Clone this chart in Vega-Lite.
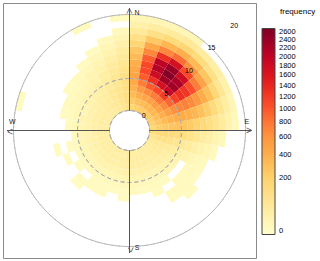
{
 "$schema": "https://vega.github.io/schema/vega-lite/v6.json",
 "width": 253, "height": 255,
 "autosize": {"type": "none"},
 "padding": {"left": 3, "top": 3, "right": 64, "bottom": 3},
 "background": "white",
 "view": {"stroke": "#8a8a8a", "strokeWidth": 1, "fill": "white"},
 "config": {"view": {"stroke": "#8a8a8a", "strokeWidth": 1}, "font": "Liberation Sans"},
 "datasets": {
  "rings": [{"ws":0,"lab":"0"},{"ws":5,"lab":"5"},{"ws":10,"lab":"10"},{"ws":15,"lab":"15"},{"ws":20,"lab":"20"}],
  "axes": [{"dir":0},{"dir":90},{"dir":180},{"dir":270}]
 },
 "layer": [
  {
   "data": {"values": [
{"wd":0,"ws":0,"n":180},{"wd":0,"ws":1,"n":240},{"wd":0,"ws":2,"n":310},{"wd":0,"ws":3,"n":380},{"wd":0,"ws":4,"n":430},{"wd":0,"ws":5,"n":460},{"wd":0,"ws":6,"n":450},{"wd":0,"ws":7,"n":400},{"wd":0,"ws":8,"n":330},{"wd":0,"ws":9,"n":260},{"wd":0,"ws":10,"n":180},{"wd":0,"ws":11,"n":110},{"wd":0,"ws":12,"n":55},{"wd":0,"ws":13,"n":25},{"wd":0,"ws":14,"n":10},
{"wd":10,"ws":0,"n":210},{"wd":10,"ws":1,"n":290},{"wd":10,"ws":2,"n":400},{"wd":10,"ws":3,"n":550},{"wd":10,"ws":4,"n":750},{"wd":10,"ws":5,"n":950},{"wd":10,"ws":6,"n":1100},{"wd":10,"ws":7,"n":1100},{"wd":10,"ws":8,"n":950},{"wd":10,"ws":9,"n":700},{"wd":10,"ws":10,"n":450},{"wd":10,"ws":11,"n":250},{"wd":10,"ws":12,"n":110},{"wd":10,"ws":13,"n":40},{"wd":10,"ws":14,"n":12},
{"wd":20,"ws":0,"n":230},{"wd":20,"ws":1,"n":320},{"wd":20,"ws":2,"n":460},{"wd":20,"ws":3,"n":680},{"wd":20,"ws":4,"n":950},{"wd":20,"ws":5,"n":1300},{"wd":20,"ws":6,"n":1800},{"wd":20,"ws":7,"n":2100},{"wd":20,"ws":8,"n":2000},{"wd":20,"ws":9,"n":1300},{"wd":20,"ws":10,"n":700},{"wd":20,"ws":11,"n":350},{"wd":20,"ws":12,"n":150},{"wd":20,"ws":13,"n":50},{"wd":20,"ws":14,"n":12},
{"wd":30,"ws":0,"n":240},{"wd":30,"ws":1,"n":340},{"wd":30,"ws":2,"n":500},{"wd":30,"ws":3,"n":750},{"wd":30,"ws":4,"n":1100},{"wd":30,"ws":5,"n":1700},{"wd":30,"ws":6,"n":2300},{"wd":30,"ws":7,"n":2600},{"wd":30,"ws":8,"n":2400},{"wd":30,"ws":9,"n":1700},{"wd":30,"ws":10,"n":850},{"wd":30,"ws":11,"n":400},{"wd":30,"ws":12,"n":180},{"wd":30,"ws":13,"n":60},{"wd":30,"ws":14,"n":10},
{"wd":40,"ws":0,"n":250},{"wd":40,"ws":1,"n":360},{"wd":40,"ws":2,"n":530},{"wd":40,"ws":3,"n":800},{"wd":40,"ws":4,"n":1200},{"wd":40,"ws":5,"n":1900},{"wd":40,"ws":6,"n":2300},{"wd":40,"ws":7,"n":2200},{"wd":40,"ws":8,"n":1800},{"wd":40,"ws":9,"n":1100},{"wd":40,"ws":10,"n":650},{"wd":40,"ws":11,"n":330},{"wd":40,"ws":12,"n":150},{"wd":40,"ws":13,"n":45},
{"wd":50,"ws":0,"n":240},{"wd":50,"ws":1,"n":340},{"wd":50,"ws":2,"n":480},{"wd":50,"ws":3,"n":680},{"wd":50,"ws":4,"n":900},{"wd":50,"ws":5,"n":1150},{"wd":50,"ws":6,"n":1300},{"wd":50,"ws":7,"n":1250},{"wd":50,"ws":8,"n":1050},{"wd":50,"ws":9,"n":750},{"wd":50,"ws":10,"n":480},{"wd":50,"ws":11,"n":260},{"wd":50,"ws":12,"n":110},{"wd":50,"ws":13,"n":35},
{"wd":60,"ws":0,"n":220},{"wd":60,"ws":1,"n":300},{"wd":60,"ws":2,"n":400},{"wd":60,"ws":3,"n":520},{"wd":60,"ws":4,"n":630},{"wd":60,"ws":5,"n":700},{"wd":60,"ws":6,"n":730},{"wd":60,"ws":7,"n":680},{"wd":60,"ws":8,"n":560},{"wd":60,"ws":9,"n":420},{"wd":60,"ws":10,"n":290},{"wd":60,"ws":11,"n":170},{"wd":60,"ws":12,"n":75},{"wd":60,"ws":13,"n":22},
{"wd":70,"ws":0,"n":200},{"wd":70,"ws":1,"n":260},{"wd":70,"ws":2,"n":320},{"wd":70,"ws":3,"n":370},{"wd":70,"ws":4,"n":400},{"wd":70,"ws":5,"n":410},{"wd":70,"ws":6,"n":390},{"wd":70,"ws":7,"n":350},{"wd":70,"ws":8,"n":290},{"wd":70,"ws":9,"n":220},{"wd":70,"ws":10,"n":150},{"wd":70,"ws":11,"n":85},{"wd":70,"ws":12,"n":38},{"wd":70,"ws":13,"n":12},
{"wd":80,"ws":0,"n":180},{"wd":80,"ws":1,"n":220},{"wd":80,"ws":2,"n":250},{"wd":80,"ws":3,"n":270},{"wd":80,"ws":4,"n":275},{"wd":80,"ws":5,"n":260},{"wd":80,"ws":6,"n":235},{"wd":80,"ws":7,"n":200},{"wd":80,"ws":8,"n":160},{"wd":80,"ws":9,"n":120},{"wd":80,"ws":10,"n":80},{"wd":80,"ws":11,"n":45},{"wd":80,"ws":12,"n":20},{"wd":80,"ws":13,"n":6},
{"wd":90,"ws":0,"n":130},{"wd":90,"ws":1,"n":150},{"wd":90,"ws":2,"n":155},{"wd":90,"ws":3,"n":150},{"wd":90,"ws":4,"n":135},{"wd":90,"ws":5,"n":115},{"wd":90,"ws":6,"n":90},{"wd":90,"ws":7,"n":68},{"wd":90,"ws":8,"n":46},{"wd":90,"ws":9,"n":28},{"wd":90,"ws":10,"n":15},{"wd":90,"ws":11,"n":6},
{"wd":100,"ws":0,"n":90},{"wd":100,"ws":1,"n":100},{"wd":100,"ws":2,"n":100},{"wd":100,"ws":3,"n":90},{"wd":100,"ws":4,"n":75},{"wd":100,"ws":5,"n":60},{"wd":100,"ws":6,"n":45},{"wd":100,"ws":7,"n":30},{"wd":100,"ws":8,"n":20},{"wd":100,"ws":9,"n":11},{"wd":100,"ws":10,"n":5},
{"wd":110,"ws":0,"n":60},{"wd":110,"ws":1,"n":62},{"wd":110,"ws":2,"n":58},{"wd":110,"ws":3,"n":50},{"wd":110,"ws":4,"n":40},{"wd":110,"ws":5,"n":28},{"wd":110,"ws":6,"n":18},{"wd":110,"ws":7,"n":11},{"wd":110,"ws":8,"n":6},{"wd":110,"ws":9,"n":4},
{"wd":120,"ws":0,"n":48},{"wd":120,"ws":1,"n":50},{"wd":120,"ws":2,"n":45},{"wd":120,"ws":3,"n":37},{"wd":120,"ws":4,"n":27},{"wd":120,"ws":5,"n":16},{"wd":120,"ws":7,"n":5},{"wd":120,"ws":8,"n":6},{"wd":120,"ws":9,"n":3},
{"wd":130,"ws":0,"n":43},{"wd":130,"ws":1,"n":43},{"wd":130,"ws":2,"n":37},{"wd":130,"ws":3,"n":30},{"wd":130,"ws":4,"n":19},{"wd":130,"ws":5,"n":10},{"wd":130,"ws":7,"n":4},{"wd":130,"ws":8,"n":5},{"wd":130,"ws":9,"n":4},{"wd":130,"ws":10,"n":3},
{"wd":140,"ws":0,"n":40},{"wd":140,"ws":1,"n":40},{"wd":140,"ws":2,"n":33},{"wd":140,"ws":3,"n":25},{"wd":140,"ws":4,"n":15},{"wd":140,"ws":5,"n":6},{"wd":140,"ws":6,"n":3},{"wd":140,"ws":8,"n":4},{"wd":140,"ws":9,"n":3},
{"wd":150,"ws":0,"n":38},{"wd":150,"ws":1,"n":38},{"wd":150,"ws":2,"n":32},{"wd":150,"ws":3,"n":24},{"wd":150,"ws":4,"n":14},{"wd":150,"ws":5,"n":7},{"wd":150,"ws":6,"n":4},{"wd":150,"ws":7,"n":3},
{"wd":160,"ws":0,"n":38},{"wd":160,"ws":1,"n":38},{"wd":160,"ws":2,"n":32},{"wd":160,"ws":3,"n":24},{"wd":160,"ws":4,"n":14},{"wd":160,"ws":5,"n":7},{"wd":160,"ws":6,"n":3},
{"wd":170,"ws":0,"n":38},{"wd":170,"ws":1,"n":38},{"wd":170,"ws":2,"n":32},{"wd":170,"ws":3,"n":24},{"wd":170,"ws":4,"n":14},{"wd":170,"ws":5,"n":7},{"wd":170,"ws":6,"n":4},
{"wd":180,"ws":0,"n":38},{"wd":180,"ws":1,"n":38},{"wd":180,"ws":2,"n":32},{"wd":180,"ws":3,"n":24},{"wd":180,"ws":4,"n":14},{"wd":180,"ws":5,"n":7},{"wd":180,"ws":6,"n":3},{"wd":180,"ws":7,"n":3},
{"wd":190,"ws":0,"n":36},{"wd":190,"ws":1,"n":35},{"wd":190,"ws":2,"n":28},{"wd":190,"ws":3,"n":20},{"wd":190,"ws":4,"n":11},{"wd":190,"ws":5,"n":5},{"wd":190,"ws":6,"n":3},
{"wd":200,"ws":0,"n":36},{"wd":200,"ws":1,"n":35},{"wd":200,"ws":2,"n":28},{"wd":200,"ws":3,"n":20},{"wd":200,"ws":4,"n":11},{"wd":200,"ws":5,"n":5},{"wd":200,"ws":6,"n":3},{"wd":200,"ws":7,"n":3},
{"wd":210,"ws":0,"n":36},{"wd":210,"ws":1,"n":35},{"wd":210,"ws":2,"n":28},{"wd":210,"ws":3,"n":20},{"wd":210,"ws":4,"n":11},{"wd":210,"ws":5,"n":5},{"wd":210,"ws":6,"n":3},{"wd":210,"ws":7,"n":3},
{"wd":220,"ws":0,"n":36},{"wd":220,"ws":1,"n":35},{"wd":220,"ws":2,"n":28},{"wd":220,"ws":3,"n":20},{"wd":220,"ws":4,"n":10},{"wd":220,"ws":5,"n":4},{"wd":220,"ws":7,"n":3},{"wd":220,"ws":8,"n":2},
{"wd":230,"ws":0,"n":36},{"wd":230,"ws":1,"n":35},{"wd":230,"ws":2,"n":27},{"wd":230,"ws":3,"n":18},{"wd":230,"ws":4,"n":10},{"wd":230,"ws":5,"n":4},{"wd":230,"ws":6,"n":3},
{"wd":240,"ws":0,"n":36},{"wd":240,"ws":1,"n":35},{"wd":240,"ws":2,"n":27},{"wd":240,"ws":3,"n":18},{"wd":240,"ws":4,"n":10},{"wd":240,"ws":5,"n":4},{"wd":240,"ws":7,"n":3},
{"wd":250,"ws":0,"n":36},{"wd":250,"ws":1,"n":35},{"wd":250,"ws":2,"n":27},{"wd":250,"ws":3,"n":18},{"wd":250,"ws":4,"n":10},{"wd":250,"ws":5,"n":4},{"wd":250,"ws":6,"n":3},{"wd":250,"ws":8,"n":3},
{"wd":260,"ws":0,"n":36},{"wd":260,"ws":1,"n":35},{"wd":260,"ws":2,"n":27},{"wd":260,"ws":3,"n":18},{"wd":260,"ws":4,"n":10},{"wd":260,"ws":5,"n":4},
{"wd":270,"ws":0,"n":36},{"wd":270,"ws":1,"n":35},{"wd":270,"ws":2,"n":28},{"wd":270,"ws":3,"n":20},{"wd":270,"ws":4,"n":12},{"wd":270,"ws":5,"n":6},{"wd":270,"ws":6,"n":3},
{"wd":280,"ws":0,"n":38},{"wd":280,"ws":1,"n":38},{"wd":280,"ws":2,"n":30},{"wd":280,"ws":3,"n":22},{"wd":280,"ws":4,"n":15},{"wd":280,"ws":5,"n":9},{"wd":280,"ws":6,"n":5},{"wd":280,"ws":7,"n":3},{"wd":280,"ws":14,"n":3},
{"wd":290,"ws":0,"n":38},{"wd":290,"ws":1,"n":38},{"wd":290,"ws":2,"n":31},{"wd":290,"ws":3,"n":24},{"wd":290,"ws":4,"n":16},{"wd":290,"ws":5,"n":11},{"wd":290,"ws":6,"n":7},{"wd":290,"ws":7,"n":4},
{"wd":300,"ws":0,"n":40},{"wd":300,"ws":1,"n":40},{"wd":300,"ws":2,"n":34},{"wd":300,"ws":3,"n":27},{"wd":300,"ws":4,"n":20},{"wd":300,"ws":5,"n":14},{"wd":300,"ws":6,"n":9},{"wd":300,"ws":7,"n":5},{"wd":300,"ws":8,"n":3},
{"wd":310,"ws":0,"n":43},{"wd":310,"ws":1,"n":43},{"wd":310,"ws":2,"n":38},{"wd":310,"ws":3,"n":32},{"wd":310,"ws":4,"n":25},{"wd":310,"ws":5,"n":18},{"wd":310,"ws":6,"n":12},{"wd":310,"ws":7,"n":7},{"wd":310,"ws":8,"n":4},
{"wd":320,"ws":0,"n":50},{"wd":320,"ws":1,"n":52},{"wd":320,"ws":2,"n":48},{"wd":320,"ws":3,"n":42},{"wd":320,"ws":4,"n":35},{"wd":320,"ws":5,"n":28},{"wd":320,"ws":6,"n":20},{"wd":320,"ws":7,"n":13},{"wd":320,"ws":8,"n":7},{"wd":320,"ws":9,"n":3},
{"wd":330,"ws":0,"n":60},{"wd":330,"ws":1,"n":62},{"wd":330,"ws":2,"n":62},{"wd":330,"ws":3,"n":58},{"wd":330,"ws":4,"n":50},{"wd":330,"ws":5,"n":42},{"wd":330,"ws":6,"n":33},{"wd":330,"ws":7,"n":23},{"wd":330,"ws":8,"n":15},{"wd":330,"ws":9,"n":8},{"wd":330,"ws":10,"n":3},{"wd":330,"ws":14,"n":3},
{"wd":340,"ws":0,"n":75},{"wd":340,"ws":1,"n":85},{"wd":340,"ws":2,"n":88},{"wd":340,"ws":3,"n":85},{"wd":340,"ws":4,"n":78},{"wd":340,"ws":5,"n":68},{"wd":340,"ws":6,"n":57},{"wd":340,"ws":7,"n":44},{"wd":340,"ws":8,"n":31},{"wd":340,"ws":9,"n":20},{"wd":340,"ws":10,"n":11},{"wd":340,"ws":11,"n":5},
{"wd":350,"ws":0,"n":95},{"wd":350,"ws":1,"n":110},{"wd":350,"ws":2,"n":120},{"wd":350,"ws":3,"n":120},{"wd":350,"ws":4,"n":113},{"wd":350,"ws":5,"n":105},{"wd":350,"ws":6,"n":90},{"wd":350,"ws":7,"n":75},{"wd":350,"ws":8,"n":57},{"wd":350,"ws":9,"n":40},{"wd":350,"ws":10,"n":25},{"wd":350,"ws":11,"n":12},{"wd":350,"ws":12,"n":5},{"wd":350,"ws":14,"n":3}
   ]},
   "transform": [
    {"bin": {"step": 10, "extent": [0, 360]}, "field": "wd", "as": ["wd0", "wd1"]},
    {"bin": {"step": 1, "extent": [0, 20]}, "field": "ws", "as": ["ws0", "ws1"]}
   ],
   "mark": {"type": "arc"},
   "encoding": {
    "theta": {"field": "wd0", "type": "quantitative", "stack": null, "scale": {"type": "linear", "domain": [0, 360], "range": [0, 6.283185307179586], "zero": false, "nice": false}},
    "theta2": {"field": "wd1"},
    "radius": {"field": "ws1", "type": "quantitative", "scale": {"type": "linear", "domain": [0, 20], "range": [20, 148], "zero": false, "nice": false}},
    "radius2": {"field": "ws0"},
    "color": {"field": "n", "type": "quantitative",
     "scale": {"type": "sqrt", "domain": [0, 2680], "range": ["#ffffcc","#ffeda0","#fed976","#feb24c","#fd8d3c","#fc4e2a","#e31a1c","#bd0026","#800026"], "interpolate": "rgb", "nice": false, "zero": false},
     "legend": {"type": "gradient", "title": "frequency", "orient": "none", "legendX": 259, "legendY": 4.5, "direction": "vertical",
      "gradientLength": 206, "gradientThickness": 13, "gradientStrokeColor": "#444", "gradientStrokeWidth": 1,
      "values": [0,200,400,600,800,1000,1200,1400,1600,1800,2000,2200,2400,2600], "format": "d",
      "labelOverlap": false, "labelFontSize": 7.5, "labelColor": "#000", "labelOffset": 4, "labelFont": "Liberation Sans",
      "titleFontSize": 8, "titleFontWeight": "normal", "titleColor": "#000", "titleFont": "Liberation Sans", "titlePadding": 13, "padding": 0,
      "encode": {"title": {"update": {"dx": {"value": 18}}}}}
    }
   }
  },
  {
   "data": {"name": "rings"},
   "mark": {"type": "arc", "filled": false, "clip": true, "stroke": "#aaaaaa", "strokeWidth": 0.9, "strokeDash": [4, 3]},
   "encoding": {
    "theta": {"datum": 0, "type": "quantitative"},
    "theta2": {"datum": 360},
    "radius": {"field": "ws", "type": "quantitative"}
   }
  },
  {
   "data": {"name": "axes"},
   "mark": {"type": "arc", "filled": false, "stroke": "#555", "strokeWidth": 1},
   "encoding": {
    "theta": {"field": "dir", "type": "quantitative", "stack": null},
    "theta2": {"field": "dir"},
    "radius": {"datum": 16, "type": "quantitative"},
    "radius2": {"datum": 0}
   }
  },
  {
   "data": {"name": "rings"},
   "mark": {"type": "text", "align": "center", "baseline": "middle", "fontSize": 7, "color": "#000"},
   "encoding": {
    "theta": {"datum": 45, "type": "quantitative"},
    "radius": {"field": "ws", "type": "quantitative"},
    "text": {"field": "lab"}
   }
  },
  {
   "data": {"values": [{"dir": 0, "lab": "N"}, {"dir": 180, "lab": "S"}]},
   "mark": {"type": "text", "align": "center", "baseline": "middle", "fontSize": 7, "color": "#222", "dx": 7.5},
   "encoding": {
    "theta": {"field": "dir", "type": "quantitative", "stack": null},
    "radius": {"datum": 15.2, "type": "quantitative"},
    "text": {"field": "lab"}
   }
  },
  {
   "data": {"values": [{"dir": 90, "lab": "E"}, {"dir": 270, "lab": "W"}]},
   "mark": {"type": "text", "align": "center", "baseline": "middle", "fontSize": 7, "color": "#222", "dy": -8.5},
   "encoding": {
    "theta": {"field": "dir", "type": "quantitative", "stack": null},
    "radius": {"datum": 15.2, "type": "quantitative"},
    "text": {"field": "lab"}
   }
  },
  {
   "data": {"values": [{"dir": 0}]},
   "mark": {"type": "text", "text": ">", "align": "right", "baseline": "middle", "fontSize": 10, "color": "#555", "angle": 270},
   "encoding": {"theta": {"field": "dir", "type": "quantitative", "stack": null}, "radius": {"datum": 16, "type": "quantitative"}}
  },
  {
   "data": {"values": [{"dir": 90}]},
   "mark": {"type": "text", "text": ">", "align": "right", "baseline": "middle", "fontSize": 10, "color": "#555", "angle": 0},
   "encoding": {"theta": {"field": "dir", "type": "quantitative", "stack": null}, "radius": {"datum": 16, "type": "quantitative"}}
  },
  {
   "data": {"values": [{"dir": 180}]},
   "mark": {"type": "text", "text": ">", "align": "right", "baseline": "middle", "fontSize": 10, "color": "#555", "angle": 90},
   "encoding": {"theta": {"field": "dir", "type": "quantitative", "stack": null}, "radius": {"datum": 16, "type": "quantitative"}}
  },
  {
   "data": {"values": [{"dir": 270}]},
   "mark": {"type": "text", "text": ">", "align": "right", "baseline": "middle", "fontSize": 10, "color": "#555", "angle": 180},
   "encoding": {"theta": {"field": "dir", "type": "quantitative", "stack": null}, "radius": {"datum": 16, "type": "quantitative"}}
  }
 ]
}
